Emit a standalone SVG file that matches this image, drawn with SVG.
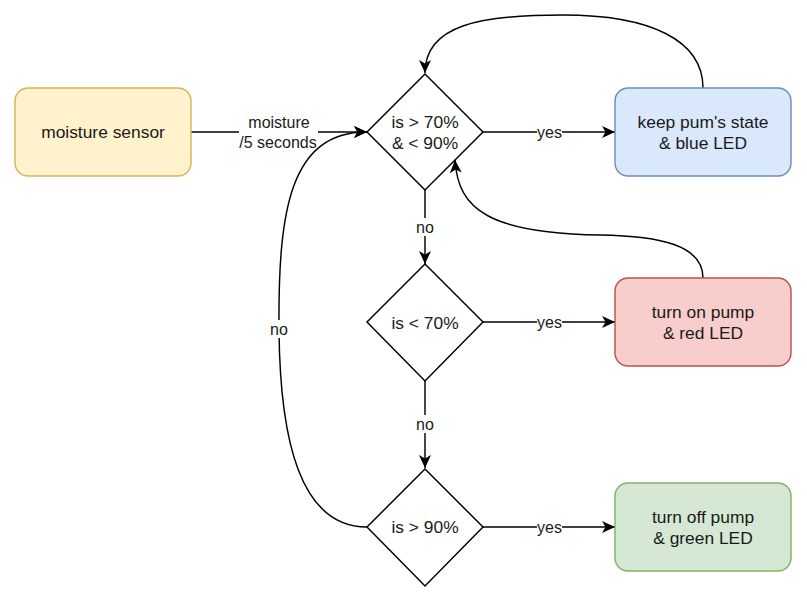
<svg xmlns="http://www.w3.org/2000/svg" width="807" height="602" viewBox="0 0 807 602">
  <style>
    .node-text { font-family: "Liberation Sans", Arial, sans-serif; font-size: 17.4px; fill: #1a1a1a; text-anchor: middle; }
    .edge-label { font-family: "Liberation Sans", Arial, sans-serif; font-size: 16px; fill: #1a1a1a; text-anchor: middle; }
    .label-bg { fill: #ffffff; }
    .edge { fill: none; stroke: #000000; stroke-width: 1.45; }
    .decision { fill: #ffffff; stroke: #000000; stroke-width: 1.45; }
    .sensor { fill: #fff2cc; stroke: #d6b656; stroke-width: 1.45; }
    .blue { fill: #dae8fc; stroke: #6c8ebf; stroke-width: 1.45; }
    .red { fill: #f8cecc; stroke: #b85450; stroke-width: 1.45; }
    .green { fill: #d5e8d4; stroke: #82b366; stroke-width: 1.45; }
  </style>
  <defs>
    <marker id="arrow" markerUnits="userSpaceOnUse" markerWidth="14" markerHeight="14" refX="13" refY="7" orient="auto">
      <path d="M0,1 L13,7 L0,13 L3.5,7 Z" fill="#000000"/>
    </marker>
  </defs>

  <rect width="807" height="602" fill="#ffffff"/>

  <!-- connectors -->
  <g id="connectors">
    <!-- sensor to first check -->
    <path class="edge" d="M191,132 L367,132" marker-end="url(#arrow)"/>
    <rect class="label-bg" x="239" y="112" width="79" height="40"/>
    <text class="edge-label" x="279" y="127.5">moisture</text>
    <text class="edge-label" x="278" y="148">/5 seconds</text>

    <!-- yes branches -->
    <path class="edge" d="M483,132 L615,132" marker-end="url(#arrow)"/>
    <rect class="label-bg" x="537" y="123" width="25" height="18"/>
    <text class="edge-label" x="549.5" y="137.5">yes</text>

    <path class="edge" d="M483,322 L615,322" marker-end="url(#arrow)"/>
    <rect class="label-bg" x="537" y="313" width="25" height="18"/>
    <text class="edge-label" x="549.5" y="327.5">yes</text>

    <path class="edge" d="M483,527 L615,527" marker-end="url(#arrow)"/>
    <rect class="label-bg" x="537" y="518" width="25" height="18"/>
    <text class="edge-label" x="549.5" y="532.5">yes</text>

    <!-- no branches -->
    <path class="edge" d="M425,190 L425,264" marker-end="url(#arrow)"/>
    <rect class="label-bg" x="415" y="218" width="20" height="18"/>
    <text class="edge-label" x="425" y="232.5">no</text>

    <path class="edge" d="M425,381 L425,468" marker-end="url(#arrow)"/>
    <rect class="label-bg" x="415" y="415" width="20" height="18"/>
    <text class="edge-label" x="425" y="429.5">no</text>

    <!-- too wet: back to first check -->
    <path class="edge" d="M367,527 C300,527 280,440 279,330 C278,210 290,132 367,132" marker-end="url(#arrow)"/>
    <rect class="label-bg" x="269" y="320" width="20" height="18"/>
    <text class="edge-label" x="279" y="334.5">no</text>

    <!-- keep state: loop back -->
    <path class="edge" d="M703,88 C703,40 650,15 563,15 C480,15 425,25 425,73" marker-end="url(#arrow)"/>

    <!-- pump on: loop back -->
    <path class="edge" d="M703,278 C703,245 660,236 600,235 C490,233 458,210 455,160" marker-end="url(#arrow)"/>
  </g>

  <!-- nodes -->
  <g id="moisture-sensor">
    <rect class="sensor" x="15" y="88" width="176" height="88" rx="13" ry="13"/>
    <text class="node-text" x="103" y="138">moisture sensor</text>
  </g>

  <g id="check-range">
    <polygon class="decision" points="425,74 483,132 425,190 367,132"/>
    <text class="node-text" x="425" y="127.5">is &gt; 70%</text>
    <text class="node-text" x="425" y="148.5">&amp; &lt; 90%</text>
  </g>

  <g id="check-low">
    <polygon class="decision" points="425,264 483,322 425,381 367,322"/>
    <text class="node-text" x="425" y="328.5">is &lt; 70%</text>
  </g>

  <g id="check-high">
    <polygon class="decision" points="425,469 483,527 425,586 367,527"/>
    <text class="node-text" x="425" y="533">is &gt; 90%</text>
  </g>

  <g id="keep-state">
    <rect class="blue" x="615" y="88" width="176" height="88" rx="13" ry="13"/>
    <text class="node-text" x="703" y="127.5">keep pum's state</text>
    <text class="node-text" x="703" y="148.5">&amp; blue LED</text>
  </g>

  <g id="pump-on">
    <rect class="red" x="615" y="278" width="176" height="88" rx="13" ry="13"/>
    <text class="node-text" x="703" y="317.5">turn on pump</text>
    <text class="node-text" x="703" y="338.5">&amp; red LED</text>
  </g>

  <g id="pump-off">
    <rect class="green" x="615" y="483" width="176" height="88" rx="13" ry="13"/>
    <text class="node-text" x="703" y="522.5">turn off pump</text>
    <text class="node-text" x="703" y="543.5">&amp; green LED</text>
  </g>
</svg>
